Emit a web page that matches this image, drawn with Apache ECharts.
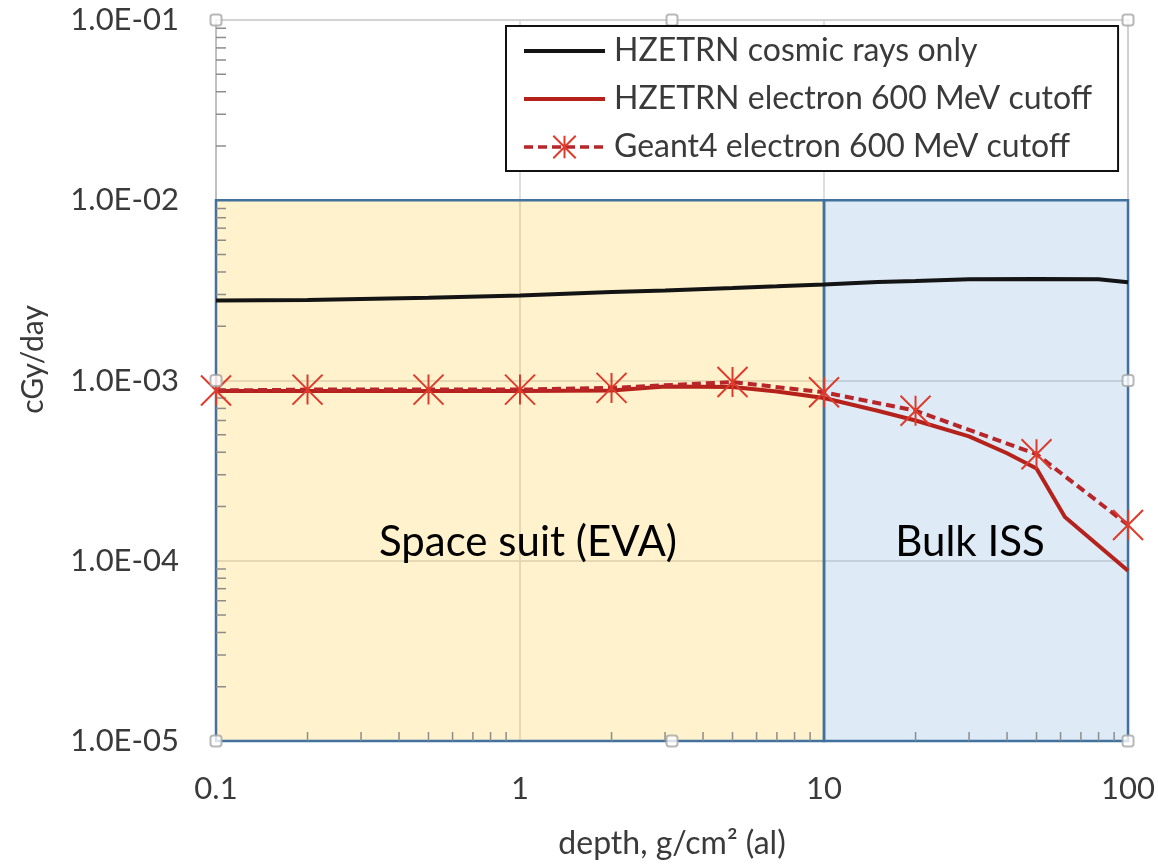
<!DOCTYPE html>
<html>
<head>
<meta charset="utf-8">
<script src="https://cdn.jsdelivr.net/npm/echarts@6/dist/echarts.min.js"></script>
<style>html,body{margin:0;padding:0;background:#fff;}#c{width:1158px;height:865px;}</style>
</head>
<body>
<div id="c"></div>
<script>
// ---- data ----
const seriesNames = ['HZETRN cosmic rays only', 'HZETRN electron 600 MeV cutoff', 'Geant4 electron 600 MeV cutoff'];
const cosmicX = [0.1, 0.2, 0.5, 1, 2, 3, 5, 7, 10, 15, 20, 30, 50, 80, 100];
const cosmicY = [2.78e-3, 2.80e-3, 2.88e-3, 2.96e-3, 3.10e-3, 3.16e-3, 3.26e-3, 3.33e-3, 3.41e-3, 3.52e-3, 3.56e-3, 3.65e-3, 3.66e-3, 3.64e-3, 3.51e-3];
const hzeElecX = [0.1, 0.2, 0.5, 1, 2, 3, 5, 7, 10, 15, 20, 30, 40, 50, 62, 100];
const hzeElecY = [8.75e-4, 8.75e-4, 8.75e-4, 8.75e-4, 8.8e-4, 9.25e-4, 9.2e-4, 8.7e-4, 8.0e-4, 6.8e-4, 6.0e-4, 4.9e-4, 3.95e-4, 3.25e-4, 1.75e-4, 8.8e-5];
const g4X = [0.1, 0.2, 0.5, 1, 2, 5, 10, 20, 50, 100];
const g4Y = [8.8e-4, 8.9e-4, 8.9e-4, 8.9e-4, 9.1e-4, 9.8e-4, 8.6e-4, 6.8e-4, 3.9e-4, 1.58e-4];

const xTickValues = [0.1, 1, 10, 100];
const xTickLabels = ['0.1', '1', '10', '100'];
const yTickExp = [-5, -4, -3, -2, -1];
const yTickLabels = ['1.0E-05', '1.0E-04', '1.0E-03', '1.0E-02', '1.0E-01'];

const xMinor = [0.2,0.3,0.4,0.5,0.6,0.7,0.8,0.9, 2,3,4,5,6,7,8,9, 20,30,40,50,60,70,80,90];
const yMinor = [2e-5,3e-5,4e-5,5e-5,6e-5,7e-5,8e-5,9e-5, 2e-4,3e-4,4e-4,5e-4,6e-4,7e-4,8e-4,9e-4,
                2e-3,3e-3,4e-3,5e-3,6e-3,7e-3,8e-3,9e-3, 2e-2,3e-2,4e-2,5e-2,6e-2,7e-2,8e-2,9e-2];

const regionNames = ['Space suit (EVA)', 'Bulk ISS'];
const regionX = [[0.1, 10], [10, 100]];
const regionY = [1e-5, 1e-2];

const xMin = 0.1, xMax = 100, yMin = 1e-5, yMax = 1e-1;
const handleX = [0.1, 3.1623, 100, 0.1, 100, 0.1, 3.1623, 100];
const handleY = [1e-1, 1e-1, 1e-1, 1e-3, 1e-3, 1e-5, 1e-5, 1e-5];

// ---- chart ----
const FONT = 'Lato';
const zip = (a, b) => a.map((v, i) => [v, b[i]]);
const chart = echarts.init(document.getElementById('c'), null, {renderer: 'canvas'});

const regionFills = ['rgba(255,192,0,0.2)', 'rgba(91,155,213,0.2)'];
const regionOffsets = [[8, 72], [-6, 72]];

const option = {
  backgroundColor: '#ffffff',
  animation: false,
  textStyle: {fontFamily: FONT},
  grid: {left: 216, right: 29, top: 20, bottom: 120, show: true, borderColor: '#bfbfbf', borderWidth: 2, backgroundColor: 'transparent'},
  legend: {
    data: [
      {name: seriesNames[0], itemStyle: {opacity: 0}, lineStyle: {width: 4}},
      {name: seriesNames[1], itemStyle: {opacity: 0}, lineStyle: {width: 4}},
      {name: seriesNames[2], lineStyle: {width: 3.5}}
    ],
    orient: 'vertical',
    left: 506, top: 26,
    padding: [9, 26, 8, 16],
    itemGap: 16,
    itemWidth: 81,
    itemHeight: 28,
    backgroundColor: '#ffffff',
    borderColor: '#111111',
    borderWidth: 2,
    borderRadius: 0,
    textStyle: {fontFamily: FONT, fontSize: 32, color: '#3a3a3a', padding: [0, 0, 0, 4]},
    selectedMode: false,
    z: 20
  },
  xAxis: {
    type: 'log', logBase: 10, min: xMin, max: xMax,
    name: 'depth, g/cm\u00B2 (al)', nameLocation: 'middle', nameGap: 87,
    nameTextStyle: {fontFamily: FONT, fontSize: 32, color: '#3a3a3a'},
    axisLine: {show: true, lineStyle: {color: '#bfbfbf', width: 2}},
    axisTick: {show: false},
    axisLabel: {
      margin: 32, fontFamily: FONT, fontSize: 31, color: '#3a3a3a',
      formatter: v => { const i = xTickValues.findIndex(t => Math.abs(Math.log10(t) - Math.log10(v)) < 1e-6); return i >= 0 ? xTickLabels[i] : ''; }
    },
    splitLine: {show: true, lineStyle: {color: '#d4d4d4', width: 1.5}},
    minorTick: {show: false}
  },
  yAxis: {
    type: 'log', logBase: 10, min: yMin, max: yMax,
    name: 'cGy/day', nameLocation: 'middle', nameGap: 168,
    nameTextStyle: {fontFamily: FONT, fontSize: 30, color: '#3a3a3a', padding: [0, 0, 0, 42]},
    axisLine: {show: true, lineStyle: {color: '#bfbfbf', width: 2}},
    axisTick: {show: false},
    axisLabel: {
      margin: 37, fontFamily: FONT, fontSize: 31, color: '#3a3a3a',
      formatter: v => { const e = Math.round(Math.log10(v)); const i = yTickExp.indexOf(e); return i >= 0 ? yTickLabels[i] : ''; }
    },
    splitLine: {show: true, lineStyle: {color: '#d4d4d4', width: 1.5}}
  },
  series: [
    {
      name: 'regions', type: 'line', data: [], z: 1, silent: true,
      markArea: {
        silent: true,
        data: regionNames.map((nm, i) => [
          {name: nm, xAxis: regionX[i][0], yAxis: regionY[0],
           itemStyle: {color: regionFills[i], borderColor: '#41719c', borderWidth: 2.5},
           label: {show: true, position: 'inside', offset: regionOffsets[i], formatter: nm,
                   fontFamily: FONT, fontSize: 42, color: '#000000'}},
          {xAxis: regionX[i][1], yAxis: regionY[1]}
        ])
      }
    },
    {
      name: 'xMinorTicks', type: 'custom', z: 4, silent: true, clip: false,
      data: xMinor.map(v => [v, yMin]),
      renderItem: (params, api) => {
        const p = api.coord([api.value(0), api.value(1)]);
        return {type: 'line', shape: {x1: p[0], y1: p[1], x2: p[0], y2: p[1] - 9}, style: {stroke: '#8c8c8c', lineWidth: 1.5}};
      }
    },
    {
      name: 'yMinorTicks', type: 'custom', z: 4, silent: true, clip: false,
      data: yMinor.map(v => [xMin, v]),
      renderItem: (params, api) => {
        const p = api.coord([api.value(0), api.value(1)]);
        return {type: 'line', shape: {x1: p[0], y1: p[1], x2: p[0] + 10, y2: p[1]}, style: {stroke: '#8c8c8c', lineWidth: 1.5}};
      }
    },
    {
      name: seriesNames[0], type: 'line', z: 5,
      data: zip(cosmicX, cosmicY),
      showSymbol: false, symbol: 'none',
      lineStyle: {color: '#141414', width: 4},
      itemStyle: {color: '#141414'},
      emphasis: {disabled: true}
    },
    {
      name: seriesNames[1], type: 'line', z: 6,
      data: zip(hzeElecX, hzeElecY),
      showSymbol: false, symbol: 'none',
      lineStyle: {color: '#b5221c', width: 4},
      itemStyle: {color: '#b5221c'},
      emphasis: {disabled: true}
    },
    {
      name: seriesNames[2], type: 'line', z: 7, clip: false,
      data: zip(g4X, g4Y),
      symbol: 'path://M0,0L20,20M20,0L0,20M10,0L10,20',
      symbolSize: 30, symbolKeepAspect: true,
      lineStyle: {color: '#b8262a', width: 4, type: [9, 5]},
      itemStyle: {color: 'transparent', borderColor: '#dd3b2c', borderWidth: 2},
      emphasis: {disabled: true}
    },
    {
      name: 'handles', type: 'scatter', z: 15, silent: true, clip: false,
      data: zip(handleX, handleY),
      symbol: 'roundRect', symbolSize: 11,
      itemStyle: {color: '#ffffff', borderColor: '#a6a6a6', borderWidth: 2}
    }
  ]
};
chart.setOption(option);
</script>
</body>
</html>
